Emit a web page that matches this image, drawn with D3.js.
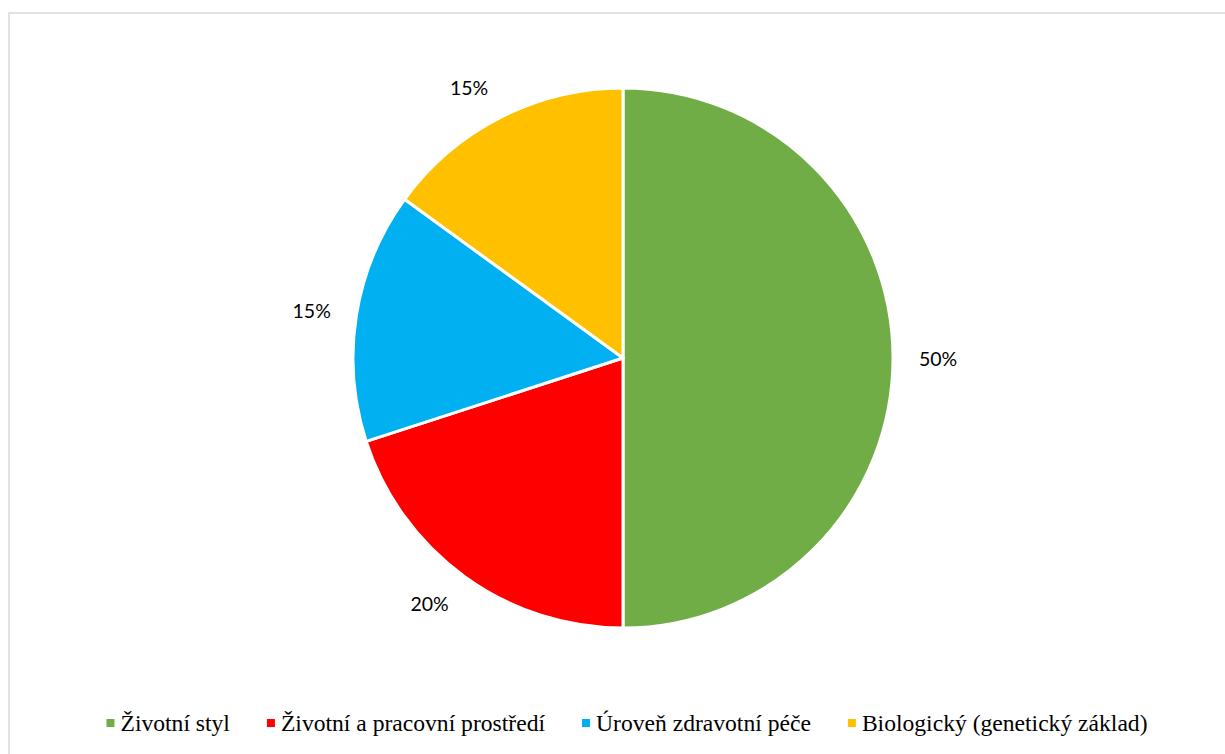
<!DOCTYPE html>
<html>
<head>
<meta charset="utf-8">
<script src="https://cdn.jsdelivr.net/npm/d3@7"></script>
<style>
  html, body { margin: 0; padding: 0; background: #fff; }
  svg { display: block; }
</style>
</head>
<body>
<svg id="chart" width="1225" height="754"></svg>
<script>
// Category names, shares (percent) and slice colours
const categories = ["Životní styl", "Životní a pracovní prostředí", "Úroveň zdravotní péče", "Biologický (genetický základ)"];
const shares = [50, 20, 15, 15];
const colors = ["#70AD47", "#FF0000", "#00B0F0", "#FFC000"];

const W = 1225, H = 754;
const svg = d3.select("#chart");

// Chart area frame
svg.append("rect")
  .attr("x", 9).attr("y", 13)
  .attr("width", W + 20).attr("height", H + 20)
  .attr("fill", "#fff")
  .attr("stroke", "#d9d9d9")
  .attr("stroke-width", 1.5);

const cx = 623, cy = 358, r = 270;
const data = categories.map((c, i) => ({ name: c, value: shares[i], color: colors[i] }));

const pie = d3.pie().value(d => d.value).sort(null);
const arc = d3.arc().innerRadius(0).outerRadius(r);
const arcs = pie(data);

const g = svg.append("g").attr("transform", `translate(${cx},${cy})`);

g.selectAll("path.slice")
  .data(arcs)
  .join("path")
  .attr("class", "slice")
  .attr("d", arc)
  .attr("fill", d => d.data.color)
  .attr("stroke", "#fff")
  .attr("stroke-width", 3)
  .attr("stroke-linejoin", "round");

// Value labels placed just outside each slice
const lw = 40, lh = 18, labelR = r + 25;
g.selectAll("text.val")
  .data(arcs)
  .join("text")
  .attr("class", "val")
  .style("font-family", '"Lato", "Open Sans", sans-serif')
  .attr("font-size", 19.5)
  .attr("fill", "#000")
  .attr("text-anchor", "middle")
  .attr("dominant-baseline", "central")
  .attr("transform", d => {
    const a = (d.startAngle + d.endAngle) / 2;
    const dx = Math.sin(a), dy = -Math.cos(a);
    const x = dx * labelR + Math.sign(dx) * lw / 2;
    const y = dy * labelR + dy * lh / 2;
    return `translate(${x},${y})`;
  })
  .text(d => d.data.value + "%");

// Legend along the bottom
const legend = svg.append("g");
const legendY = 723;
const items = legend.selectAll("g.item")
  .data(data)
  .join("g")
  .attr("class", "item");

items.append("rect")
  .attr("width", 8).attr("height", 8)
  .attr("y", legendY - 4)
  .attr("fill", d => d.color);

items.append("text")
  .attr("x", 14)
  .attr("y", legendY)
  .attr("dominant-baseline", "central")
  .style("font-family", '"Liberation Serif", serif')
  .attr("font-size", 23.6)
  .attr("fill", "#000")
  .text(d => d.name);

let x = 0;
const itemGap = 37;
const widths = [];
items.each(function () {
  const t = d3.select(this).select("text").node().getComputedTextLength();
  widths.push(14 + t);
});
const total = d3.sum(widths) + itemGap * (widths.length - 1);
x = 627 - total / 2;
items.attr("transform", (d, i) => {
  const tx = x;
  x += widths[i] + itemGap;
  return `translate(${tx},0)`;
});
</script>
</body>
</html>
